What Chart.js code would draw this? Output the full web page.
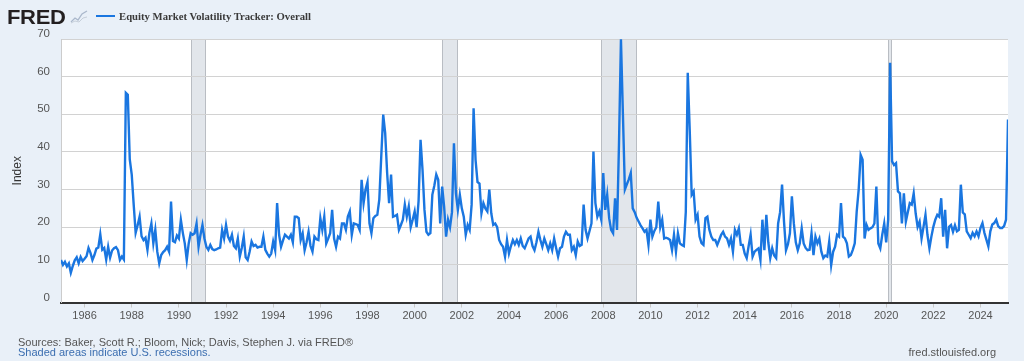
<!DOCTYPE html>
<html>
<head>
<meta charset="utf-8">
<script src="https://cdn.jsdelivr.net/npm/chart.js@4.4.1/dist/chart.umd.min.js"></script>
<style>
  html, body { margin: 0; padding: 0; background: #e9f0f8; width: 1024px; height: 361px; overflow: hidden; }
  body { font-family: "Liberation Sans", Arial, sans-serif; position: relative; }
  #chartEmv { position: absolute; left: 0; top: 0; }
  .logo { position: absolute; left: 7px; top: 7px; font-size: 20px; line-height: 20px; font-weight: bold; color: #231f20; transform: scaleX(1.1); transform-origin: left top; letter-spacing: -0.3px; }
  .logo-icon { position: absolute; left: 70px; top: 9px; }
  .legend-line { position: absolute; left: 96px; top: 15px; width: 19px; height: 2px; background: #1a76e0; }
  .legend-text { position: absolute; left: 119px; top: 10px; font: bold 10.7px/12px "Liberation Serif", "Times New Roman", serif; color: #3a3a3a; white-space: nowrap; }
  .note { position: absolute; font-size: 11px; line-height: 13px; white-space: nowrap; color: #555; }
</style>
</head>
<body>
<canvas id="chartEmv" width="1024" height="361"></canvas>

<div class="logo">FRED</div>
<svg class="logo-icon" width="18" height="15" viewBox="0 0 18 15">
  <polyline points="1,13 5,9 8,11 12,5 17,2" fill="none" stroke="#aab8cc" stroke-width="1.3"/>
  <polyline points="1,14 5,12 9,13 13,9 17,8" fill="none" stroke="#c5ced9" stroke-width="1"/>
</svg>
<div class="legend-line"></div>
<div class="legend-text">Equity Market Volatility Tracker: Overall</div>

<div class="note" style="left:18px; top:336px;">Sources: Baker, Scott R.; Bloom, Nick; Davis, Stephen J. via FRED®</div>
<div class="note" style="left:18px; top:346px; color:#3b6eb0;">Shaded areas indicate U.S. recessions.</div>
<div class="note" style="right:28px; top:346px;">fred.stlouisfed.org</div>

<script>
// monthly index values, Jan 1985 onwards
let emv1985s = [
  11.3, 10.0, 10.8, 9.6, 10.4, 7.9, 9.7, 11.2, 12.0, 10.4, 12.1, 11.0,   // 1985
  11.6, 12.3, 14.5, 13.2, 11.3, 12.6, 14.3, 14.6, 18.1, 14.0, 14.5, 11.4, // 1986
  14.8, 11.9, 13.8, 14.4, 14.7, 13.9, 11.3, 12.2, 11.4, 55.7, 55.2, 38.0, // 1987
  34.0, 26.0, 18.5, 20.5, 22.8, 17.6, 16.6, 17.2, 14.0, 18.5, 21.0, 15.7, // 1988
  19.3, 13.5, 10.4, 12.6, 13.4, 13.9, 14.8, 13.5, 26.8, 16.3, 16.0, 17.8, // 1989
  17.0, 22.0, 18.5, 15.7, 11.3, 15.7, 18.4, 18.0, 18.4, 21.0, 14.8, 18.0, // 1990
  20.6, 17.0, 14.8, 14.0, 15.3, 14.2, 13.9, 14.1, 14.4, 14.6, 19.3, 17.0, // 1991
  20.6, 17.5, 16.4, 18.0, 15.0, 14.4, 17.0, 12.2, 14.5, 17.5, 12.0, 11.3, // 1992
  13.5, 16.2, 15.0, 15.3, 14.6, 14.8, 14.8, 17.5, 14.0, 13.0, 12.2, 13.0, // 1993
  16.2, 13.9, 26.4, 18.0, 14.8, 16.5, 18.0, 17.5, 17.0, 18.0, 16.0, 22.8  // 1994
];
let emv1995s = [
  22.8, 22.4, 16.6, 18.4, 13.9, 16.0, 18.8, 15.0, 13.5, 17.5, 16.8, 16.6, // 1995
  22.4, 19.3, 22.8, 15.7, 17.0, 18.4, 24.6, 17.0, 14.8, 17.5, 17.0, 21.0, // 1996
  21.0, 19.3, 22.8, 24.2, 18.0, 21.0, 20.8, 20.6, 19.3, 32.6, 26.4, 30.0, // 1997
  32.0, 21.0, 18.4, 22.4, 23.0, 23.3, 27.3, 38.8, 49.9, 45.0, 34.4, 26.4, // 1998
  34.0, 22.8, 23.0, 23.3, 19.3, 20.6, 22.0, 26.0, 22.8, 25.5, 20.0, 22.0, // 1999
  24.2, 20.0, 27.0, 43.2, 35.3, 24.6, 18.8, 18.0, 18.4, 28.6, 31.0, 34.0, // 2000
  32.6, 21.0, 30.8, 25.5, 17.5, 22.0, 20.0, 24.0, 42.3, 29.0, 24.6, 28.6, // 2001
  25.0, 22.8, 18.0, 20.6, 19.3, 26.0, 51.6, 37.9, 32.0, 31.6, 23.7, 26.4, // 2002
  25.0, 24.2, 30.0, 23.7, 20.6, 21.0, 20.0, 16.6, 15.5, 14.8, 12.2, 16.6, // 2003
  13.0, 15.0, 16.6, 15.5, 16.6, 15.3, 17.0, 15.0, 14.4, 15.7, 17.0, 17.5  // 2004
];
let emv2005s = [
  15.0, 13.9, 16.0, 18.8, 16.6, 14.8, 17.0, 15.5, 13.9, 15.7, 13.9, 17.0, // 2005
  14.5, 12.2, 14.4, 14.8, 17.5, 18.8, 18.0, 18.0, 13.9, 14.8, 12.6, 16.2, // 2006
  15.0, 15.3, 26.0, 19.3, 17.0, 19.0, 21.0, 40.1, 26.4, 22.8, 24.2, 22.0, // 2007
  34.4, 24.6, 28.6, 22.4, 19.3, 18.4, 27.7, 19.3, 42.0, 69.9, 50.0, 30.0, // 2008
  31.4, 32.7, 34.4, 25.0, 24.0, 22.5, 21.5, 20.5, 19.7, 18.8, 19.3, 15.3, // 2009
  22.0, 17.5, 19.0, 20.0, 26.8, 20.0, 22.0, 17.0, 17.2, 17.0, 16.6, 13.9, // 2010
  18.0, 13.5, 18.4, 15.7, 15.3, 15.0, 24.0, 61.0, 45.9, 28.6, 29.5, 22.0, // 2011
  23.3, 17.5, 15.8, 15.3, 22.4, 22.8, 19.3, 17.5, 16.6, 16.6, 15.3, 16.6, // 2012
  18.0, 18.8, 17.5, 17.0, 15.3, 17.0, 13.5, 19.3, 18.0, 19.7, 15.3, 15.3, // 2013
  13.0, 11.8, 15.0, 18.0, 12.2, 13.5, 14.0, 14.4, 11.3, 22.0, 13.9, 23.3  // 2014
];
let emv2015s = [
  16.0, 11.8, 14.4, 12.5, 11.8, 21.0, 24.0, 31.3, 21.5, 13.9, 15.5, 18.4, // 2015
  28.2, 21.0, 16.0, 13.9, 15.7, 19.7, 15.7, 14.5, 13.9, 14.0, 18.4, 12.6, // 2016
  17.5, 15.7, 17.0, 13.5, 11.8, 12.5, 12.2, 16.2, 9.9, 13.5, 14.8, 18.0,  // 2017
  17.5, 26.4, 17.5, 17.0, 15.7, 12.2, 12.6, 14.0, 15.7, 24.2, 30.0, 39.2, // 2018
  37.9, 17.0, 20.6, 19.3, 19.7, 20.0, 21.0, 30.8, 15.7, 14.4, 18.0, 21.0, // 2019
  16.0, 22.0, 63.7, 37.5, 36.5, 37.0, 29.5, 29.0, 21.0, 29.0, 21.5, 24.0, // 2020
  26.4, 26.0, 29.0, 23.7, 20.1, 21.5, 17.0, 20.1, 23.3, 18.0, 14.4, 17.5, // 2021
  20.1, 22.0, 23.3, 22.8, 27.7, 17.5, 24.6, 14.4, 20.1, 20.6, 18.8, 20.5, // 2022
  18.9, 19.3, 31.3, 23.9, 23.4, 18.9, 18.0, 17.1, 18.5, 17.6, 18.9, 17.6, // 2023
  19.8, 21.1, 18.5, 16.7, 14.9, 18.9, 20.7, 21.1, 22.0, 20.3, 19.8, 19.8, // 2024
  20.3, 22.0, 48.6                                                         // 2025
];

let startYear = 1985;
let values = emv1985s.concat(emv1995s, emv2005s, emv2015s);
let yearTicks = [1986, 1988, 1990, 1992, 1994, 1996, 1998, 2000, 2002, 2004, 2006,
                 2008, 2010, 2012, 2014, 2016, 2018, 2020, 2022, 2024];
let recessionStarts = ['1990-07', '2001-03', '2007-12', '2020-02'];
let recessionEnds   = ['1991-03', '2001-11', '2009-06', '2020-04'];

let lineColor = '#1a76e0';
let fontFamily = '"Liberation Sans", Arial, sans-serif';

function toYear(s) {
  let [y, m] = s.split('-').map(Number);
  return y + (m - 1) / 12;
}

let points = values.map((v, i) => ({ x: startYear + i / 12, y: v }));

// white plot area + grey recession bands, under the grid
const plotBack = {
  id: 'plotBack',
  beforeDraw(chart) {
    const { ctx, chartArea: a, scales: { x } } = chart;
    ctx.save();
    ctx.fillStyle = '#ffffff';
    ctx.fillRect(a.left, a.top, a.width, a.height);
    recessionStarts.forEach((s, i) => {
      let x0 = Math.round(x.getPixelForValue(toYear(s)));
      let x1 = Math.round(x.getPixelForValue(toYear(recessionEnds[i])));
      ctx.fillStyle = '#e2e6eb';
      ctx.fillRect(x0, a.top, x1 - x0, a.height);
      ctx.strokeStyle = '#b9bdc3';
      ctx.lineWidth = 1;
      ctx.beginPath();
      ctx.moveTo(x0 + 0.5, a.top); ctx.lineTo(x0 + 0.5, a.bottom);
      ctx.moveTo(x1 - 0.5, a.top); ctx.lineTo(x1 - 0.5, a.bottom);
      ctx.stroke();
    });
    ctx.restore();
  }
};

let ctx = document.getElementById('chartEmv').getContext('2d');

let chartEmv = new Chart(ctx, {
  type: 'line',
  data: {
    datasets: [{
      label: 'Equity Market Volatility Tracker: Overall',
      data: points,
      borderColor: lineColor,
      borderWidth: 2.4,
      pointRadius: 0,
      tension: 0,
      fill: false
    }]
  },
  options: {
    responsive: false,
    animation: false,
    devicePixelRatio: 1,
    layout: { padding: { top: 39, right: 16, bottom: 28.5, left: 0 } },
    plugins: {
      legend: { display: false },
      tooltip: { enabled: false }
    },
    scales: {
      x: {
        type: 'linear',
        min: startYear,
        max: startYear + (values.length - 1) / 12,
        afterBuildTicks: s => { s.ticks = yearTicks.map(v => ({ value: v })); },
        afterFit: s => { s.height = 30; },
        ticks: {
          autoSkip: false,
          maxRotation: 0,
          padding: 2,
          color: '#555',
          font: { family: fontFamily, size: 11 },
          callback: v => String(v)
        },
        grid: { drawOnChartArea: false, drawTicks: true, tickLength: 5, color: '#c8c8c8' },
        border: { color: '#333', width: 2 }
      },
      y: {
        min: 0,
        max: 70,
        afterFit: s => { s.width = 61; },
        ticks: {
          stepSize: 10,
          padding: 11,
          labelOffset: -5,
          color: '#555',
          font: { family: fontFamily, size: 11.5 }
        },
        grid: { color: '#d2d2d2', drawTicks: false },
        border: { color: '#cccccc' },
        title: {
          display: true,
          text: 'Index',
          color: '#333',
          font: { family: fontFamily, size: 12 },
          padding: { top: 10, bottom: 0 }
        }
      }
    }
  },
  plugins: [plotBack]
});
</script>
</body>
</html>
